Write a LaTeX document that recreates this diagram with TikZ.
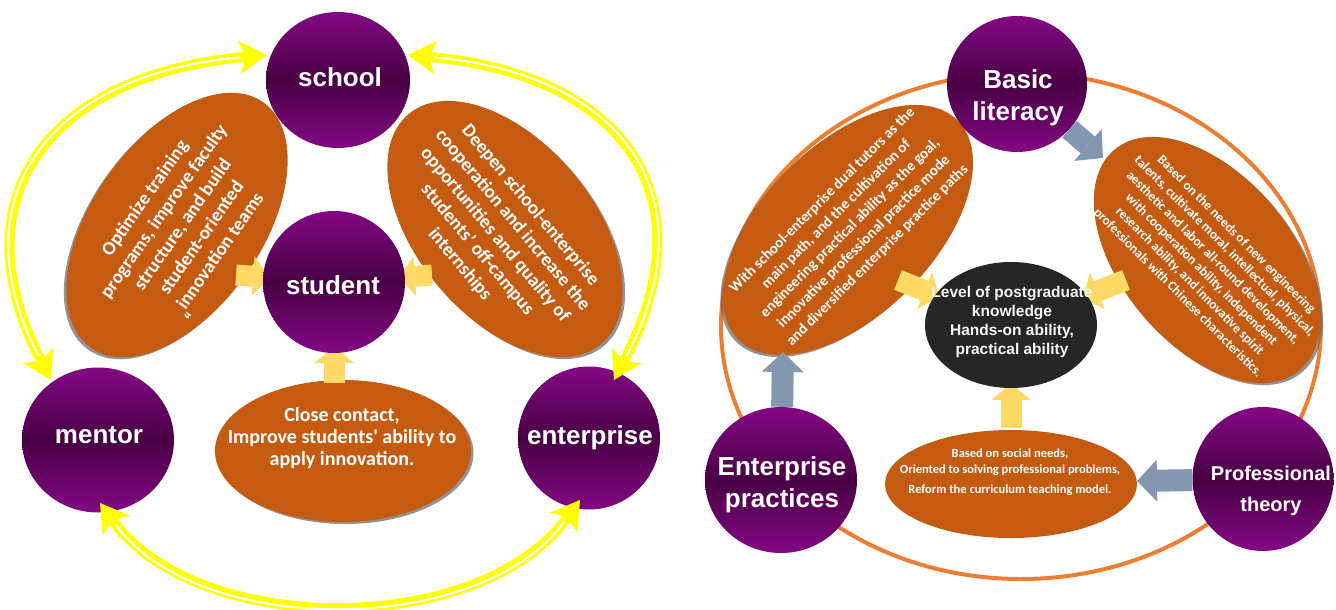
\documentclass[tikz,border=0pt]{standalone}
\usepackage{fontspec}
\setmainfont{Carlito}
\newfontfamily\arf{Liberation Sans}
\usetikzlibrary{shapes.geometric,arrows.meta,shadows}
\definecolor{org}{RGB}{197,90,17}
\definecolor{pale}{RGB}{255,217,102}
\definecolor{bgrey}{RGB}{132,151,176}
\definecolor{ringc}{RGB}{237,125,49}
\definecolor{blk}{RGB}{38,38,38}
\definecolor{ptop}{RGB}{132,8,132}
\definecolor{pmid}{RGB}{72,0,68}
\definecolor{yel}{RGB}{255,255,0}
\begin{document}
\begin{tikzpicture}[x=1pt,y=-1pt,
  pcirc/.style={ellipse, inner sep=0pt, draw=none, top color=ptop, bottom color=ptop, middle color=pmid},
  oell/.style={ellipse, inner sep=0pt, fill=org},
  shL/.style={drop shadow={shadow xshift=-2.5pt,shadow yshift=-2pt,opacity=.7,fill=black!60}},
  shR/.style={drop shadow={shadow xshift=2.5pt,shadow yshift=-2pt,opacity=.7,fill=black!60}},
  otext/.style={text=white, align=center, inner sep=0pt, font=\bfseries\fontsize{19}{23}\selectfont},
  clab/.style={text=white, align=center, inner sep=0pt, font=\arf\bfseries\fontsize{26}{32}\selectfont},
  yarr/.style={draw=yel, line width=10pt, {Stealth[length=28pt,width=34pt,inset=7pt,line width=0pt]}-{Stealth[length=28pt,width=34pt,inset=7pt,line width=0pt]}},
  ygap/.style={draw=white, line width=2pt, shorten <=27pt, shorten >=27pt},
  parr/.style={draw=pale, line width=21pt, -{Triangle[length=16pt,width=40pt,line width=0pt]}},
  barr/.style={draw=bgrey, line width=22pt, -{Triangle[length=20pt,width=42pt,line width=0pt]}}
]
\useasboundingbox (0,0) rectangle (1336,610);
\fill[white] (0,0) rectangle (1336,610);

% ---------------- left diagram ----------------
\node[oell, shL, minimum width=300pt, minimum height=170pt, rotate=55] (etl) at (177,225) {};
\node[oell, shR, minimum width=300pt, minimum height=176pt, rotate=-50] (etr) at (505,229) {};
\node[oell, shR, minimum width=256pt, minimum height=142pt] (eb) at (343,451) {};

\node[otext, rotate=55] (ttl) at (182,224) {Optimize training\\programs, improve faculty\\structure, and build\\student-oriented\\innovation teams};
\node[otext, rotate=55] (tq) at (191,318) {“};
\node[otext, rotate=-50] (ttr) at (495,235) {Deepen school-enterprise\\cooperation and increase the\\opportunities and quality of\\students’ off-campus\\internships};
\node[otext, font=\bfseries\fontsize{20}{22}\selectfont] (tb) at (342,438) {Close contact,\\Improve students\textquotesingle{} ability to\\apply innovation.};

\coordinate (ptl) at (236,275);
\coordinate (ptr) at (432,275);
\coordinate (pbt) at (334,383);
\coordinate (studc) at (334,282);
\draw[parr, shorten >=65pt] (ptl) -- (studc);
\draw[parr, shorten >=65pt] (ptr) -- (studc);
\draw[parr, shorten >=65pt] (pbt) -- (studc);

\node[pcirc, minimum width=144pt, minimum height=136pt] (school) at (338,80) {};
\node[pcirc, minimum width=142pt, minimum height=142pt] (student) at (studc) {};
\node[pcirc, minimum width=152pt, minimum height=145pt] (mentor) at (98,440) {};
\node[pcirc, minimum width=142pt, minimum height=143pt] (enterprise) at (589,438) {};

\node[clab] (lschool) at (340,77) {school};
\node[clab] (lstudent) at (333,285) {student};
\node[clab] (lmentor) at (99,435) {mentor};
\node[clab] (lenter) at (590,438) {enterprise};

% yellow two-way arcs
\coordinate (ym1) at (51,380);
\coordinate (ys1) at (267,55);
\coordinate (ys2) at (408,55);
\coordinate (ye2) at (614,380);
\coordinate (ym3) at (100,503);
\coordinate (ye3) at (580,500);
\draw[yarr] (ym1) .. controls (-45,195) and (52,74) .. (ys1);
\draw[ygap] (ym1) .. controls (-45,195) and (52,74) .. (ys1);
\draw[yarr] (ye2) .. controls (712,193) and (620,74) .. (ys2);
\draw[ygap] (ye2) .. controls (712,193) and (620,74) .. (ys2);
\draw[yarr] (ym3) .. controls (198,638) and (480,638) .. (ye3);
\draw[ygap] (ym3) .. controls (198,638) and (480,638) .. (ye3);

% ---------------- right diagram ----------------
\node[draw=ringc, line width=4pt, ellipse, inner sep=0pt, minimum width=600pt, minimum height=506pt] (ring) at (1021,326) {};
\node[oell, shL, minimum width=310pt, minimum height=170pt, rotate=45] (erl) at (848,230) {};
\node[oell, shR, minimum width=288pt, minimum height=170pt, rotate=-50] (err) at (1207,260) {};
\node[oell, minimum width=252pt, minimum height=108pt] (erb) at (1011,484) {};

\node[otext, font=\bfseries\fontsize{15}{19.5}\selectfont, rotate=45] (terl) at (850,228) {With school-enterprise dual tutors as the\\main path, and the cultivation of\\engineering practical ability as the goal,\\innovative professional practice mode\\and diversified enterprise practice paths};
\node[otext, font=\bfseries\fontsize{13.3}{16.5}\selectfont, rotate=-45] (terr) at (1207,264) {Based on the needs of new engineering\\talents, cultivate moral, intellectual, physical,\\aesthetic and labor all-round development,\\with cooperation ability, independent\\research ability, and innovative spirit\\professionals with Chinese characteristics.};
\node[otext, font=\bfseries\fontsize{12.5}{16}\selectfont] (terb) at (1010,472) {Based on social needs,\\Oriented to solving professional problems,\\[4pt]Reform the curriculum teaching model.};

\coordinate (blkc) at (1011,325);
\coordinate (pl2) at (898,280);
\coordinate (pr2) at (1126,280);
\coordinate (pb2) at (1011,428);
\draw[parr, shorten >=77pt] (pl2) -- (blkc);
\draw[parr, shorten >=77pt] (pr2) -- (blkc);
\draw[parr, shorten >=59pt] (pb2) -- (blkc);

\node[ellipse, fill=blk, inner sep=0pt, minimum width=172pt, minimum height=126pt] (black) at (blkc) {};
\node[text=gray!8, align=center, inner sep=0pt, font=\arf\bfseries\fontsize{15.5}{19}\selectfont] (tblack) at (1012,322) {Level of postgraduate\\knowledge\\Hands-on ability,\\practical ability};

\node[pcirc, minimum width=140pt, minimum height=136pt] (bl) at (1017,84) {};
\node[pcirc, minimum width=152pt, minimum height=146pt] (ep) at (781,480) {};
\node[pcirc, minimum width=141pt, minimum height=144pt] (pt) at (1263,479) {};

\coordinate (bltip) at (1103,158);
\coordinate (eptip) at (783,352);
\coordinate (pttip) at (1137,481);
\draw[barr] (bl) -- (bltip);
\draw[barr] (ep) -- (eptip);
\draw[barr] (pt) -- (pttip);

\node[clab] (lbl) at (1018,98) {Basic\\literacy};
\node[clab] (lep) at (782,485) {Enterprise\\practices};
\node[clab, font=\arf\bfseries\fontsize{20}{31}\selectfont] (lpt) at (1271,491) {Professional\\theory};
\end{tikzpicture}
\end{document}
